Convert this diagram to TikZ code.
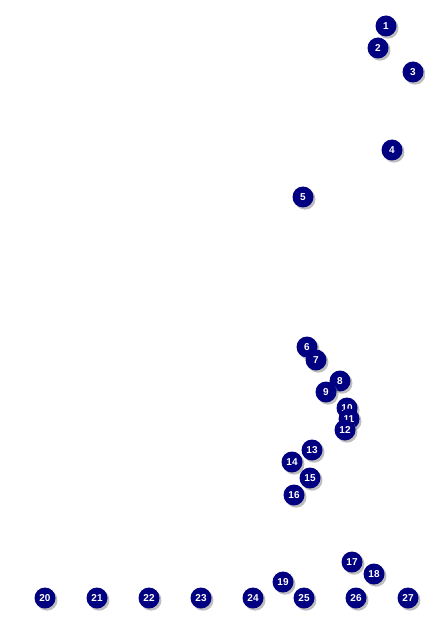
\documentclass[tikz,border=0pt]{standalone}
\usepackage{fontspec}
\setmainfont{Liberation Sans}
\definecolor{ballblue}{HTML}{000080}
\definecolor{shade}{HTML}{8A8A8A}
\begin{document}
\begin{tikzpicture}[x=1pt,y=-1pt,
  ball/.style={circle,fill=ballblue,draw=none,minimum size=21pt,inner sep=0pt,
    text=white,font=\fontsize{10}{11}\selectfont\bfseries,
    preaction={fill=shade,opacity=0.55,transform canvas={xshift=2pt,yshift=-2.2pt}}}]
\useasboundingbox (0,0) rectangle (424,636);
\fill[white] (0,0) rectangle (424,636);
\foreach \n/\x/\y in {1/386/26,2/378/48,3/413/72,4/392/150,5/303/197,6/307/347,7/316/360,8/340/381,9/326/392,10/347/408,11/349/419,12/345/430,13/312/450,14/292/462,15/310/478,16/294/495,17/352/562,18/374/574,19/283/582,20/45/598,21/97/598,22/149/598,23/201/598,24/253/598,25/304/598,26/356/598,27/408/598}
  \node[ball] (b\n) at (\x,\y) {\n};
\end{tikzpicture}
\end{document}
